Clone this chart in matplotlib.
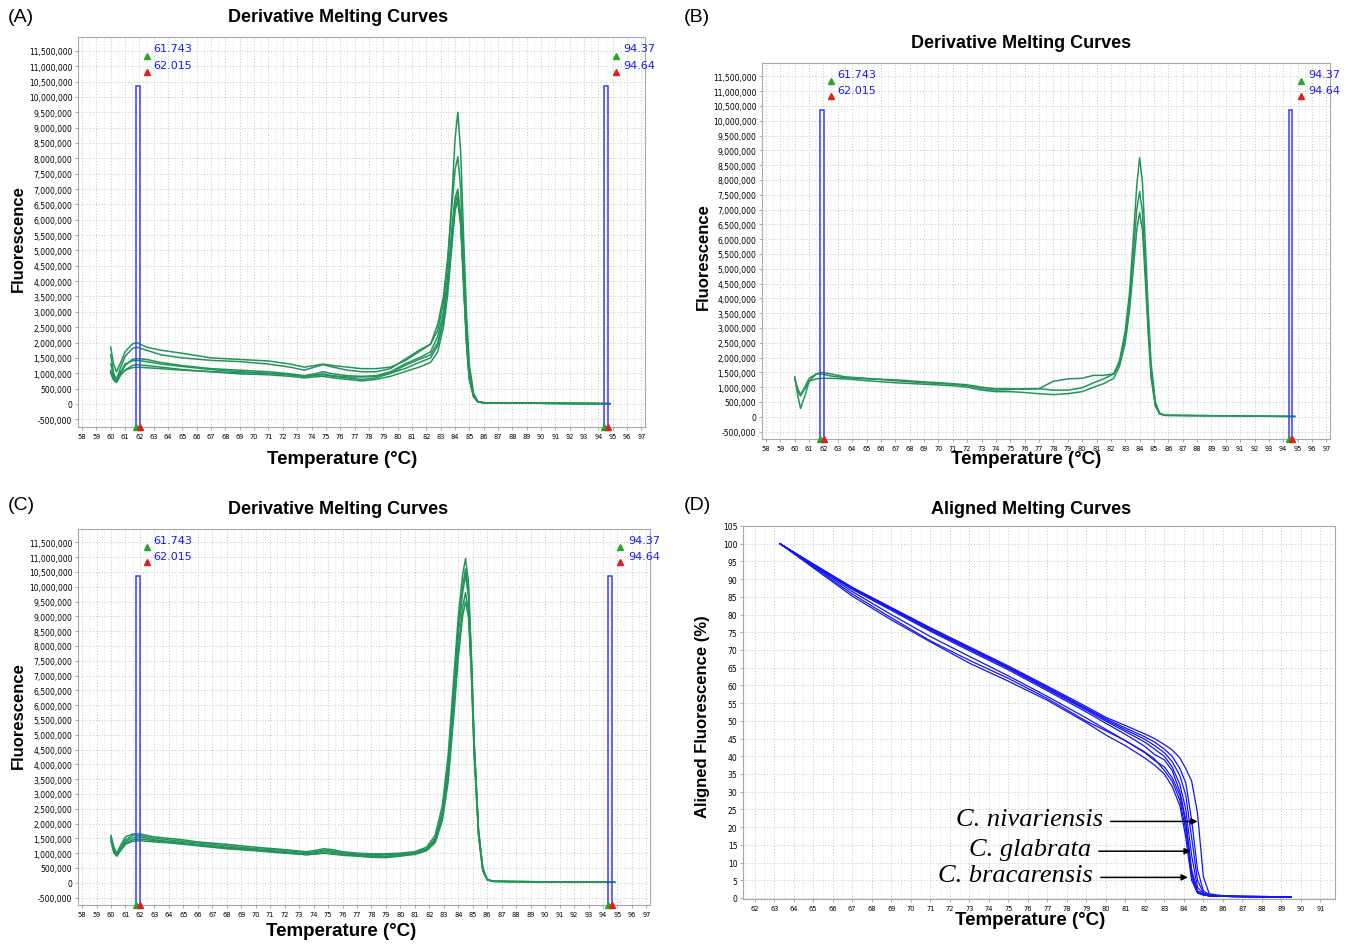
import matplotlib
matplotlib.use("Agg")
import matplotlib.pyplot as plt
from matplotlib.patches import Rectangle
from matplotlib.ticker import FuncFormatter, MultipleLocator
import numpy as np

# ---- data (fluorescence in millions) ----
temp_a = [60.0, 60.2, 60.4, 60.7, 61.0, 61.5, 61.8, 62.5, 63.5, 65.0, 67.0, 69.0, 71.0, 72.5, 73.5,
          74.2, 74.8, 75.5, 76.5, 77.5, 78.5, 79.5, 80.5, 81.5, 82.3, 82.8, 83.2, 83.5, 83.8, 84.0,
          84.2, 84.4, 84.6, 84.8, 85.0, 85.3, 85.6, 86.0, 88.0, 91.0, 94.8]
a1 = [1.85, 1.30, 1.05, 1.35, 1.70, 1.95, 2.00, 1.85, 1.75, 1.65, 1.50, 1.45, 1.40, 1.30, 1.20,
      1.25, 1.30, 1.25, 1.20, 1.15, 1.15, 1.20, 1.40, 1.70, 1.95, 2.40, 3.30, 4.60, 6.80, 8.60,
      9.50, 8.20, 5.50, 3.00, 1.30, 0.35, 0.08, 0.04, 0.03, 0.02, 0.01]
a2 = [1.60, 1.00, 0.80, 1.20, 1.55, 1.80, 1.85, 1.75, 1.60, 1.50, 1.42, 1.38, 1.30, 1.20, 1.10,
      1.20, 1.28, 1.20, 1.10, 1.05, 1.05, 1.15, 1.45, 1.75, 1.95, 2.60, 3.50, 4.80, 6.50, 7.60,
      8.05, 7.00, 4.80, 2.60, 1.10, 0.30, 0.07, 0.04, 0.03, 0.02, 0.01]
a3 = [1.10, 0.85, 0.72, 1.00, 1.25, 1.45, 1.48, 1.45, 1.35, 1.25, 1.15, 1.10, 1.05, 0.98, 0.92,
      0.98, 1.05, 0.98, 0.92, 0.90, 0.92, 1.05, 1.30, 1.50, 1.70, 2.20, 3.00, 4.20, 5.80, 6.70,
      7.00, 6.10, 4.20, 2.20, 0.90, 0.25, 0.07, 0.04, 0.03, 0.02, 0.01]
a4 = [1.30, 0.95, 0.75, 1.05, 1.30, 1.40, 1.42, 1.38, 1.30, 1.22, 1.12, 1.05, 1.00, 0.95, 0.90,
      0.92, 0.95, 0.90, 0.85, 0.80, 0.85, 1.00, 1.25, 1.45, 1.60, 2.00, 2.80, 3.90, 5.50, 6.50,
      6.85, 6.00, 4.10, 2.10, 0.85, 0.24, 0.07, 0.04, 0.03, 0.02, 0.01]
a5 = [1.00, 0.80, 0.70, 0.95, 1.10, 1.25, 1.28, 1.25, 1.20, 1.12, 1.05, 0.98, 0.95, 0.90, 0.85,
      0.88, 0.90, 0.85, 0.80, 0.75, 0.80, 0.90, 1.05, 1.20, 1.35, 1.70, 2.50, 3.60, 5.20, 6.30,
      6.70, 5.90, 4.00, 2.00, 0.80, 0.23, 0.07, 0.04, 0.03, 0.02, 0.01]
a6 = [1.05, 0.78, 0.72, 0.95, 1.10, 1.18, 1.20, 1.18, 1.15, 1.10, 1.05, 1.02, 1.00, 0.95, 0.90,
      0.95, 0.98, 0.92, 0.88, 0.88, 0.90, 1.00, 1.15, 1.35, 1.50, 1.90, 2.70, 3.80, 5.40, 6.30,
      6.60, 5.80, 3.90, 2.00, 0.80, 0.23, 0.07, 0.04, 0.03, 0.02, 0.01]

temp_b = [60.0, 60.2, 60.4, 60.7, 61.0, 61.5, 61.8, 62.5, 63.5, 65.0, 67.0, 69.0, 71.0, 72.0, 73.0,
          74.0, 75.0, 76.0, 77.0, 78.0, 79.0, 80.0, 80.8, 81.5, 82.2, 82.6, 83.0, 83.3, 83.6, 83.8,
          84.0, 84.2, 84.4, 84.6, 84.8, 85.1, 85.4, 85.8, 88.0, 91.0, 94.8]
b1 = [1.35, 0.75, 0.28, 0.70, 1.20, 1.45, 1.50, 1.45, 1.35, 1.30, 1.22, 1.15, 1.10, 1.05, 0.95,
      0.90, 0.92, 0.95, 0.95, 1.20, 1.28, 1.30, 1.40, 1.40, 1.45, 1.90, 2.90, 4.20, 6.30, 7.80,
      8.75, 7.90, 5.80, 3.60, 1.80, 0.50, 0.12, 0.05, 0.04, 0.03, 0.01]
b2 = [1.30, 0.95, 0.75, 1.00, 1.30, 1.45, 1.45, 1.38, 1.32, 1.28, 1.25, 1.18, 1.12, 1.08, 1.00,
      0.95, 0.95, 0.93, 0.95, 0.90, 0.90, 0.98, 1.15, 1.28, 1.45, 1.80, 2.70, 3.90, 5.70, 7.00,
      7.60, 6.90, 5.00, 3.10, 1.50, 0.40, 0.10, 0.05, 0.04, 0.03, 0.01]
b3 = [1.30, 0.90, 0.70, 0.95, 1.20, 1.28, 1.30, 1.30, 1.28, 1.22, 1.15, 1.10, 1.05, 1.00, 0.90,
      0.85, 0.85, 0.82, 0.78, 0.75, 0.78, 0.85, 1.00, 1.12, 1.30, 1.70, 2.50, 3.60, 5.20, 6.30,
      6.90, 6.30, 4.60, 2.80, 1.30, 0.35, 0.09, 0.05, 0.04, 0.03, 0.01]

temp_c = [60.0, 60.2, 60.4, 60.7, 61.0, 61.5, 62.0, 63.0, 64.0, 65.0, 66.0, 68.0, 70.0, 72.0, 73.5,
          74.2, 74.7, 75.3, 76.0, 77.0, 78.0, 79.0, 80.0, 81.0, 81.8, 82.4, 82.9, 83.3, 83.7, 84.0,
          84.3, 84.5, 84.7, 84.9, 85.1, 85.4, 85.7, 86.0, 86.4, 88.0, 91.0, 94.8]
c1 = [1.60, 1.20, 1.00, 1.30, 1.55, 1.65, 1.65, 1.55, 1.50, 1.45, 1.38, 1.30, 1.20, 1.12, 1.05,
      1.10, 1.15, 1.12, 1.05, 1.00, 0.98, 0.98, 1.00, 1.05, 1.20, 1.60, 2.60, 4.30, 7.00, 9.00,
      10.40, 10.95, 10.20, 7.80, 4.80, 1.80, 0.50, 0.12, 0.05, 0.04, 0.03, 0.02]
c2 = [1.50, 1.10, 0.95, 1.20, 1.45, 1.60, 1.60, 1.50, 1.45, 1.40, 1.35, 1.25, 1.15, 1.10, 1.02,
      1.05, 1.10, 1.07, 1.02, 0.98, 0.95, 0.95, 0.98, 1.02, 1.15, 1.50, 2.40, 4.00, 6.60, 8.60,
      10.00, 10.60, 9.90, 7.60, 4.70, 1.70, 0.45, 0.11, 0.05, 0.04, 0.03, 0.02]
c3 = [1.40, 1.00, 0.90, 1.15, 1.40, 1.52, 1.55, 1.45, 1.40, 1.35, 1.30, 1.20, 1.12, 1.05, 0.98,
      1.02, 1.08, 1.03, 0.98, 0.95, 0.92, 0.90, 0.95, 1.00, 1.12, 1.45, 2.30, 3.80, 6.40, 8.40,
      9.80, 10.40, 9.70, 7.50, 4.60, 1.70, 0.45, 0.11, 0.05, 0.04, 0.03, 0.02]
c4 = [1.50, 1.05, 0.92, 1.15, 1.35, 1.45, 1.48, 1.42, 1.38, 1.32, 1.28, 1.18, 1.10, 1.02, 0.95,
      0.98, 1.02, 0.98, 0.95, 0.92, 0.88, 0.88, 0.92, 0.98, 1.10, 1.40, 2.20, 3.60, 6.00, 7.90,
      9.30, 9.80, 9.20, 7.20, 4.40, 1.60, 0.40, 0.10, 0.05, 0.04, 0.03, 0.02]
c5 = [1.55, 1.10, 0.92, 1.10, 1.30, 1.40, 1.42, 1.38, 1.35, 1.30, 1.25, 1.15, 1.08, 1.00, 0.95,
      0.97, 1.00, 0.97, 0.93, 0.90, 0.86, 0.85, 0.90, 0.96, 1.08, 1.35, 2.10, 3.40, 5.70, 7.60,
      9.00, 9.50, 9.00, 7.10, 4.30, 1.60, 0.40, 0.10, 0.05, 0.04, 0.03, 0.02]

# aligned melting curves (%)
temp_d = [63.3, 65, 67, 69, 71, 73, 75, 77, 79, 80, 81, 82, 82.5, 83, 83.4, 83.8, 84.1, 84.4, 84.7,
          85.0, 85.3, 85.7, 86.5, 88, 89.5]
d1 = [100, 94.3, 87.7, 82.0, 76.3, 70.9, 65.5, 59.8, 54.0, 51.0, 48.7, 46.3, 45.0, 43.3, 41.8, 39.5,
      36.5, 33.0, 24.0, 6.0, 1.2, 0.8, 0.5, 0.4, 0.3]
d2 = [100, 94.2, 87.6, 81.8, 76.1, 70.6, 65.2, 59.5, 53.6, 50.6, 48.0, 45.5, 44.0, 42.0, 40.0, 36.5,
      32.5, 22.0, 8.0, 2.0, 0.9, 0.7, 0.5, 0.4, 0.3]
d3 = [100, 94.1, 87.5, 81.7, 75.9, 70.4, 65.0, 59.2, 53.3, 50.3, 47.5, 44.8, 43.0, 41.0, 38.5, 34.5,
      29.0, 17.0, 5.0, 1.5, 0.8, 0.6, 0.5, 0.4, 0.3]
d4 = [100, 94.0, 87.3, 81.5, 75.6, 70.2, 64.8, 58.9, 53.0, 49.9, 47.0, 44.0, 42.0, 40.0, 37.0, 32.0,
      25.0, 12.0, 3.0, 1.2, 0.7, 0.5, 0.4, 0.3, 0.3]
d5 = [100, 93.9, 87.1, 81.2, 75.3, 69.8, 64.4, 58.5, 52.5, 49.3, 46.2, 42.8, 40.5, 39.0, 36.0, 30.0,
      22.0, 8.0, 2.0, 1.0, 0.6, 0.5, 0.4, 0.3, 0.3]
d6 = [100, 93.7, 86.5, 80.0, 73.8, 68.2, 62.7, 56.9, 50.8, 47.6, 44.4, 41.0, 38.8, 37.0, 34.0, 29.0,
      21.0, 7.0, 1.8, 0.9, 0.6, 0.5, 0.4, 0.3, 0.3]
d7 = [100, 93.5, 85.8, 79.1, 72.6, 67.1, 62.0, 56.3, 49.9, 47.2, 44.4, 41.2, 39.2, 36.0, 33.0, 27.5,
      19.0, 6.0, 1.5, 0.9, 0.6, 0.5, 0.4, 0.3, 0.3]
d8 = [100, 93.2, 85.2, 78.5, 72.3, 66.3, 61.2, 55.8, 49.5, 46.0, 43.0, 39.5, 37.5, 35.0, 31.5, 26.0,
      17.0, 5.0, 1.4, 0.8, 0.6, 0.5, 0.4, 0.3, 0.3]

# melt region cursors
cursors_left = [61.743, 62.015]
cursors_right = [94.37, 94.64]

species = ["C. nivariensis", "C. glabrata", "C. bracarensis"]
species_tip = [(84.85, 21.6), (84.5, 13.2), (84.35, 5.8)]
species_tail = [80.1, 79.5, 79.6]

W, H = 1346, 945
GREEN = "#24945a"
BLUE = "#1515ee"
SANS = "Liberation Sans"

fig = plt.figure(figsize=(W / 100, H / 100), dpi=100)


def fx(x):
    return x / W


def fy(y):
    return 1 - y / H


def style_axes(ax):
    for s in ax.spines.values():
        s.set_color("#a8a8a8")
        s.set_linewidth(0.8)
    ax.xaxis.set_minor_locator(MultipleLocator(0.5))
    ax.grid(True, which="major", ls=(0, (1, 2)), color="#c4c4c4", lw=0.7)
    ax.grid(True, which="minor", axis="x", ls="-", color="#f2f2f2", lw=0.6)
    ax.set_axisbelow(True)
    ax.tick_params(which="major", length=2, width=0.5, color="#888888", pad=2)
    ax.tick_params(which="minor", length=0)
    ax.tick_params(axis="x", labelsize=4.8)
    ax.tick_params(axis="y", labelsize=5.5)


def deriv_panel(rect, temps, curves):
    ax = fig.add_axes(rect)
    for c in curves:
        ax.plot(temps, np.array(c) * 1e6, color=GREEN, lw=1.1, zorder=2)
    ylo, yhi = -0.75e6, 11.95e6
    ax.set_xlim(57.72, 97.25)
    ax.set_ylim(ylo, yhi)
    ax.xaxis.set_major_locator(MultipleLocator(1))
    ax.yaxis.set_major_locator(MultipleLocator(5e5))
    ax.yaxis.set_major_formatter(FuncFormatter(lambda v, p: f"{v:,.0f}"))
    style_axes(ax)

    for pair, xm, xt in [(cursors_left, 62.5, 62.95), (cursors_right, 95.2, 95.75)]:
        ax.add_patch(Rectangle((pair[0], ylo), pair[1] - pair[0], 10.37e6 - ylo,
                               fill=False, ec="#3a3aff", lw=1.1, zorder=3))
        ax.plot([xm], [11.33e6], marker="^", color="#2aa62a", ms=5, zorder=4)
        ax.plot([xm], [10.82e6], marker="^", color="#dd2020", ms=5, zorder=4)
        ax.text(xt, 11.58e6, str(pair[0]), color="#1a1aff", fontsize=8, va="center")
        ax.text(xt, 11.05e6, str(pair[1]), color="#1a1aff", fontsize=8, va="center")
        ax.plot([pair[0]], [ylo], marker="^", color="#2aa62a", ms=5, clip_on=False, zorder=5)
        ax.plot([pair[1]], [ylo], marker="^", color="#dd2020", ms=5, clip_on=False, zorder=5)
    return ax


deriv_panel([fx(78), fy(428), 567 / W, 390 / H], temp_a, [a1, a2, a3, a4, a5, a6])
deriv_panel([fx(762), fy(440), 568 / W, 376 / H], temp_b, [b1, b2, b3])
deriv_panel([fx(78), fy(906), 572 / W, 376 / H], temp_c, [c1, c2, c3, c4, c5])

# panel D
axd = fig.add_axes([fx(743), fy(900), 592 / W, 373 / H])
for c in [d1, d2, d3, d4, d5, d6, d7, d8]:
    axd.plot(temp_d, c, color=BLUE, lw=0.9)
axd.set_xlim(61.4, 91.75)
axd.set_ylim(-0.3, 105)
axd.xaxis.set_major_locator(MultipleLocator(1))
axd.yaxis.set_major_locator(MultipleLocator(5))
style_axes(axd)
for name, tip, tail in zip(species, species_tip, species_tail):
    axd.annotate("", xy=tip, xytext=(tail, tip[1]),
                 arrowprops=dict(arrowstyle="-|>", mutation_scale=9, color="black", lw=1.1))
    axd.text(tail - 0.25, tip[1] + 0.6, name, ha="right", va="center", fontsize=19,
             family="Liberation Serif", style="italic")

# titles and labels
for x, y, t in [(338, 17, "Derivative Melting Curves"), (1021, 43, "Derivative Melting Curves"),
                (338, 510, "Derivative Melting Curves"), (1031, 510, "Aligned Melting Curves")]:
    fig.text(fx(x), fy(y), t, ha="center", va="center", fontsize=13, weight="bold", family=SANS)

for x, y in [(342, 460), (1026, 460), (341, 932), (1030, 921)]:
    fig.text(fx(x), fy(y), "Temperature (°C)", ha="center", va="center", fontsize=13.5,
             weight="bold", family=SANS)

for x, y, t in [(18, 239, "Fluorescence"), (703, 257, "Fluorescence"),
                (18, 716, "Fluorescence"), (703, 717, "Aligned Fluorescence (%)")]:
    fig.text(fx(x), fy(y), t, ha="center", va="center", rotation=90, fontsize=12,
             weight="bold", family=SANS)

for x, y, t in [(8, 17, "(A)"), (684, 17, "(B)"), (8, 505, "(C)"), (684, 505, "(D)")]:
    fig.text(fx(x), fy(y), t, ha="left", va="center", fontsize=14, family=SANS)

fig.savefig("out.png", dpi=100)
